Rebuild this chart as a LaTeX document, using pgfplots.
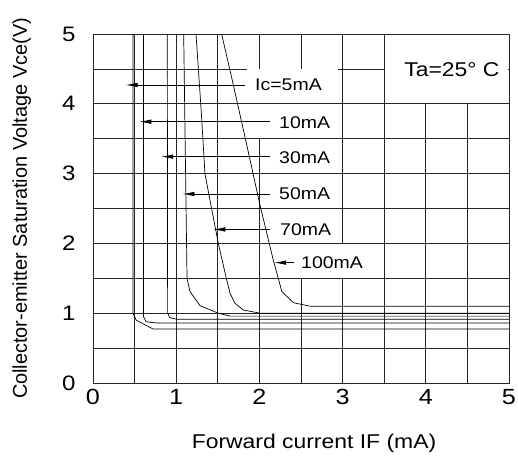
\documentclass[border=0pt]{standalone}
\usepackage{fontspec}
\setmainfont[FakeStretch=1.15]{Liberation Sans}
\newfontfamily\ylabfont{Liberation Sans}
\usepackage{pgfplots}
\pgfplotsset{compat=1.18}
\usetikzlibrary{arrows.meta}

\pgfplotstableread{
x y
0.48 5
0.48 1.0
0.52 0.90
0.72 0.775
5 0.775
}\curveA
\pgfplotstableread{
x y
0.607 5
0.607 0.95
0.637 0.878
0.757 0.86
5 0.86
}\curveB
\pgfplotstableread{
x y
0.893 5
0.897 1.0
0.925 0.936
1.01 0.912
5 0.912
}\curveC
\pgfplotstableread{
x y
1.09 5
1.13 1.5
1.166 1.31
1.286 1.108
1.506 1.0
1.65 0.958
5 0.958
}\curveD
\pgfplotstableread{
x y
1.238 5
1.30 3.91
1.346 2.994
1.506 2.0
1.607 1.476
1.647 1.285
1.707 1.141
1.807 1.046
2.007 1.0
5 1.0
}\curveE
\pgfplotstableread{
x y
1.546 5
1.687 4.27
1.85 3.4
2.007 2.55
2.167 1.76
2.27 1.31
2.41 1.15
2.61 1.10
5 1.10
}\curveF

\begin{document}
\begin{tikzpicture}
\path[use as bounding box] (0,0) rectangle (518bp,464bp);
\begin{axis}[
  at={(93bp,81bp)}, anchor=south west,
  width=416bp, height=349bp, scale only axis,
  xmin=0, xmax=5, ymin=0, ymax=5,
  xtick={0,1,2,3,4,5}, ytick={0,1,2,3,4,5},
  minor xtick={0.5,1.5,2.5,3.5,4.5}, minor ytick={0.5,1.5,2.5,3.5,4.5},
  grid=both,
  major grid style={black!85, line width=0.8bp},
  minor grid style={black!85, line width=0.8bp},
  axis line style={black!85, line width=0.8bp},
  major tick length=0pt, minor tick length=0pt,
  /pgf/number format/assume math mode=true,
  xticklabel style={font=\fontsize{22}{26}\selectfont, yshift=-3bp},
  yticklabel style={font=\fontsize{21}{25}\selectfont, xshift=-14bp},
  xlabel={Forward current IF (mA)},
  xlabel style={at={(axis description cs:0.5,0)}, anchor=base, yshift=-65bp, xshift=13bp, font=\fontsize{20}{24}\selectfont},
  ylabel={Collector-emitter Saturation Voltage Vce(V)},
  ylabel style={at={(axis description cs:-0.1587,0.5)}, anchor=base, font=\ylabfont\fontsize{20}{24}\selectfont},
]
% white label backgrounds
\fill[white] (axis cs:1.85,4.008) rectangle (axis cs:2.95,4.492);
\fill[white] (axis cs:1.90,3.508) rectangle (axis cs:2.95,3.992);
\fill[white] (axis cs:2.20,3.008) rectangle (axis cs:2.95,3.492);
\fill[white] (axis cs:2.20,2.508) rectangle (axis cs:2.95,2.992);
\fill[white] (axis cs:2.20,2.008) rectangle (axis cs:2.95,2.492);
\fill[white] (axis cs:2.45,1.508) rectangle (axis cs:3.45,1.992);
\fill[white] (axis cs:3.51,4.008) rectangle (axis cs:4.99,4.99);

\addplot[black, line width=0.7bp] table {\curveA};
\addplot[black, line width=0.7bp] table {\curveB};
\addplot[black, line width=0.7bp] table {\curveC};
\addplot[black, line width=0.7bp] table {\curveD};
\addplot[black, line width=0.7bp] table {\curveE};
\addplot[black, line width=0.7bp] table {\curveF};

\addplot[black, line width=0.7bp, -{Latex[length=12bp,width=4.5bp]}] coordinates {(1.827,4.27) (0.393,4.27)};
\addplot[black, line width=0.7bp, -{Latex[length=12bp,width=4.5bp]}] coordinates {(2.127,3.744) (0.557,3.744)};
\addplot[black, line width=0.7bp, -{Latex[length=12bp,width=4.5bp]}] coordinates {(2.127,3.243) (0.82,3.243)};
\addplot[black, line width=0.7bp, -{Latex[length=12bp,width=4.5bp]}] coordinates {(2.127,2.708) (1.075,2.708)};
\addplot[black, line width=0.7bp, -{Latex[length=12bp,width=4.5bp]}] coordinates {(2.127,2.20) (1.446,2.20)};
\addplot[black, line width=0.7bp, -{Latex[length=12bp,width=4.5bp]}] coordinates {(2.41,1.724) (2.177,1.724)};

\node[anchor=west, inner sep=0pt, font=\fontsize{17}{20}\selectfont] at (axis cs:1.947,4.28) {Ic=5mA};
\node[anchor=west, inner sep=0pt, font=\fontsize{17}{20}\selectfont] at (axis cs:2.236,3.734) {10mA};
\node[anchor=west, inner sep=0pt, font=\fontsize{17}{20}\selectfont] at (axis cs:2.236,3.233) {30mA};
\node[anchor=west, inner sep=0pt, font=\fontsize{17}{20}\selectfont] at (axis cs:2.236,2.717) {50mA};
\node[anchor=west, inner sep=0pt, font=\fontsize{17}{20}\selectfont] at (axis cs:2.248,2.202) {70mA};
\node[anchor=west, inner sep=0pt, font=\fontsize{17}{20}\selectfont] at (axis cs:2.50,1.724) {100mA};
\node[anchor=west, inner sep=0pt, font=\fontsize{20}{24}\selectfont] at (axis cs:3.74,4.49) {Ta=25° C};
\end{axis}
\end{tikzpicture}
\end{document}
